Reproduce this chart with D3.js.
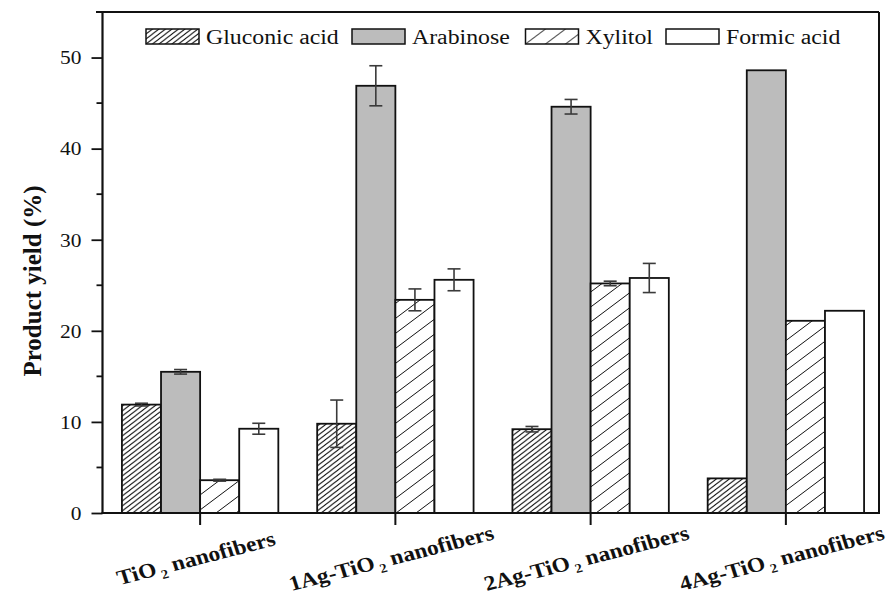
<!DOCTYPE html>
<html>
<head>
<meta charset="utf-8">
<script src="https://cdn.jsdelivr.net/npm/d3@7"></script>
<style>
  body { margin: 0; background: #fff; }
  svg { display: block; font-family: "Liberation Serif", "Times New Roman", serif; }
</style>
</head>
<body>
<svg id="chart" width="887" height="603"></svg>
<script>
// values
var categories = ["TiO₂ nanofibers", "1Ag-TiO₂ nanofibers", "2Ag-TiO₂ nanofibers", "4Ag-TiO₂ nanofibers"];
var seriesNames = ["Gluconic acid", "Arabinose", "Xylitol", "Formic acid"];

var gluconic    = [11.9, 9.8, 9.2, 3.8];
var gluconicErr = [0.15, 2.6, 0.3, 0];
var arabinose    = [15.5, 46.9, 44.6, 48.6];
var arabinoseErr = [0.25, 2.2, 0.8, 0];
var xylitol    = [3.6, 23.4, 25.2, 21.1];
var xylitolErr = [0.1, 1.2, 0.25, 0];
var formic    = [9.25, 25.6, 25.8, 22.2];
var formicErr = [0.6, 1.2, 1.6, 0];

var yTicks = [0, 10, 20, 30, 40, 50];
var yMinorTicks = [5, 15, 25, 35, 45];

(function() {
  var svg = d3.select("#chart");
  var stretch = 1.19; // the source picture is a bit wider than tall

  var plot = { left: 102.5, top: 12, right: 879, bottom: 513 };

  var y = d3.scaleLinear().domain([0, 55]).range([plot.bottom, plot.top]);
  var x = d3.scaleBand().domain(categories).range([plot.left, 883.5]).padding(0);
  var xs = d3.scaleBand().domain(seriesNames).range([-78.2, 78.2]);

  var fills = ["url(#hatchDense)", "#bcbcbc", "url(#hatchWide)", "#ffffff"];

  // hatch patterns
  var defs = svg.append("defs");
  defs.append("pattern")
    .attr("id", "hatchDense")
    .attr("patternUnits", "userSpaceOnUse")
    .attr("width", 6.5).attr("height", 5)
    .call(function(p) {
      p.append("rect").attr("width", 6.5).attr("height", 5).attr("fill", "#fff");
      p.append("path")
        .attr("d", "M0,5L6.5,0M-1.3,1L1.3,-1M5.2,6L7.8,4")
        .attr("stroke", "#111").attr("stroke-width", 1);
    });
  defs.append("pattern")
    .attr("id", "hatchWide")
    .attr("patternUnits", "userSpaceOnUse")
    .attr("width", 20).attr("height", 15)
    .call(function(p) {
      p.append("rect").attr("width", 20).attr("height", 15).attr("fill", "#fff");
      p.append("path")
        .attr("d", "M0,15L20,0M-2,1.5L2,-1.5M18,16.5L22,13.5")
        .attr("stroke", "#111").attr("stroke-width", 1);
    });

  var rows = [
    { name: seriesNames[0], values: gluconic, errors: gluconicErr },
    { name: seriesNames[1], values: arabinose, errors: arabinoseErr },
    { name: seriesNames[2], values: xylitol, errors: xylitolErr },
    { name: seriesNames[3], values: formic, errors: formicErr }
  ];

  var bars = [];
  rows.forEach(function(r, si) {
    categories.forEach(function(c, ci) {
      bars.push({ cat: c, series: r.name, si: si, value: r.values[ci], err: r.errors[ci] });
    });
  });

  // bars
  svg.append("g").selectAll("rect")
    .data(bars)
    .enter().append("rect")
    .attr("x", function(d) { return x(d.cat) + x.bandwidth() / 2 + xs(d.series); })
    .attr("y", function(d) { return y(d.value); })
    .attr("width", xs.bandwidth())
    .attr("height", function(d) { return y(0) - y(d.value); })
    .attr("fill", function(d) { return fills[d.si]; })
    .attr("stroke", "#111")
    .attr("stroke-width", 1.8);

  // error bars
  var errGroup = svg.append("g")
    .attr("stroke", "#3a3a3a")
    .attr("stroke-width", 1.6);
  var withErr = bars.filter(function(d) { return d.err > 0; });
  var cx = function(d) { return x(d.cat) + x.bandwidth() / 2 + xs(d.series) + xs.bandwidth() / 2; };
  errGroup.selectAll("line.stem").data(withErr).enter().append("line")
    .attr("class", "stem")
    .attr("x1", cx).attr("x2", cx)
    .attr("y1", function(d) { return y(d.value + d.err); })
    .attr("y2", function(d) { return y(d.value - d.err); });
  ["+", "-"].forEach(function(sign) {
    errGroup.selectAll("line.cap" + (sign === "+" ? "Hi" : "Lo")).data(withErr).enter().append("line")
      .attr("class", "cap" + (sign === "+" ? "Hi" : "Lo"))
      .attr("x1", function(d) { return cx(d) - 6.5; })
      .attr("x2", function(d) { return cx(d) + 6.5; })
      .attr("y1", function(d) { return y(sign === "+" ? d.value + d.err : d.value - d.err); })
      .attr("y2", function(d) { return y(sign === "+" ? d.value + d.err : d.value - d.err); });
  });

  // frame
  var frame = svg.append("g").attr("stroke", "#111").attr("stroke-width", 2).attr("fill", "none");
  frame.append("line").attr("x1", 96).attr("x2", plot.right).attr("y1", plot.top).attr("y2", plot.top);
  frame.append("line").attr("x1", plot.right).attr("x2", plot.right).attr("y1", plot.top).attr("y2", plot.bottom);

  // y axis
  var yAxis = svg.append("g")
    .attr("transform", "translate(" + plot.left + ",0)")
    .call(d3.axisLeft(y).tickValues(yTicks).tickSize(11).tickFormat(d3.format("d")));
  yAxis.select(".domain").remove();
  yAxis.selectAll(".tick line").attr("stroke", "#111").attr("stroke-width", 1.8);
  yAxis.selectAll(".tick text")
    .attr("x", null)
    .attr("dy", "0.35em")
    .attr("transform", "translate(-21,0) scale(" + stretch + ",1)")
    .attr("font-size", 18)
    .attr("font-family", "Liberation Serif, Times New Roman, serif")
    .attr("fill", "#111");

  svg.append("g").selectAll("line")
    .data(yMinorTicks)
    .enter().append("line")
    .attr("x1", plot.left - 6).attr("x2", plot.left)
    .attr("y1", function(d) { return y(d); }).attr("y2", function(d) { return y(d); })
    .attr("stroke", "#111").attr("stroke-width", 1.8);

  svg.append("line")
    .attr("x1", plot.left).attr("x2", plot.left)
    .attr("y1", plot.top - 1).attr("y2", plot.bottom + 1)
    .attr("stroke", "#111").attr("stroke-width", 2.2);

  // x axis
  var xAxis = svg.append("g")
    .attr("transform", "translate(0," + plot.bottom + ")")
    .call(d3.axisBottom(x).tickSize(12).tickFormat(""));
  xAxis.select(".domain").remove();
  xAxis.selectAll(".tick line").attr("stroke", "#111").attr("stroke-width", 2);
  svg.append("line")
    .attr("x1", plot.left - 1).attr("x2", plot.right + 1)
    .attr("y1", plot.bottom).attr("y2", plot.bottom)
    .attr("stroke", "#111").attr("stroke-width", 2.2);

  // rotated category labels with subscript 2
  var labels = svg.append("g").selectAll("text")
    .data(categories)
    .enter().append("text")
    .attr("text-anchor", "middle")
    .attr("font-weight", "bold")
    .attr("font-size", 21)
    .attr("fill", "#111")
    .attr("transform", function(d) {
      return "translate(" + (x(d) + x.bandwidth() / 2 - 2) + ",565) scale(1.12,1) rotate(-16)";
    });
  labels.each(function(d) {
    var parts = d.split("₂");
    var t = d3.select(this);
    t.append("tspan").text(parts[0]);
    t.append("tspan").attr("font-size", 13).attr("dx", 3).attr("dy", 5).text("2");
    t.append("tspan").attr("dy", -5).text(parts[1]);
  });

  // y label
  svg.append("text")
    .attr("transform", "translate(41,281) rotate(-90)")
    .attr("text-anchor", "middle")
    .attr("font-weight", "bold")
    .attr("font-size", 25)
    .attr("fill", "#111")
    .text("Product yield (%)");

  // legend
  var legendX = [146, 352, 525.5, 666];
  var legend = svg.append("g").selectAll("g")
    .data(seriesNames)
    .enter().append("g")
    .attr("transform", function(d, i) { return "translate(" + legendX[i] + ",29)"; });
  legend.append("rect")
    .attr("width", 53).attr("height", 15)
    .attr("fill", function(d, i) { return fills[i]; })
    .attr("stroke", "#111").attr("stroke-width", 1.5);
  legend.append("text")
    .attr("transform", "translate(60,14.5) scale(" + stretch + ",1)")
    .attr("font-size", 20)
    .attr("fill", "#111")
    .text(function(d) { return d; });
}());
</script>
</body>
</html>
